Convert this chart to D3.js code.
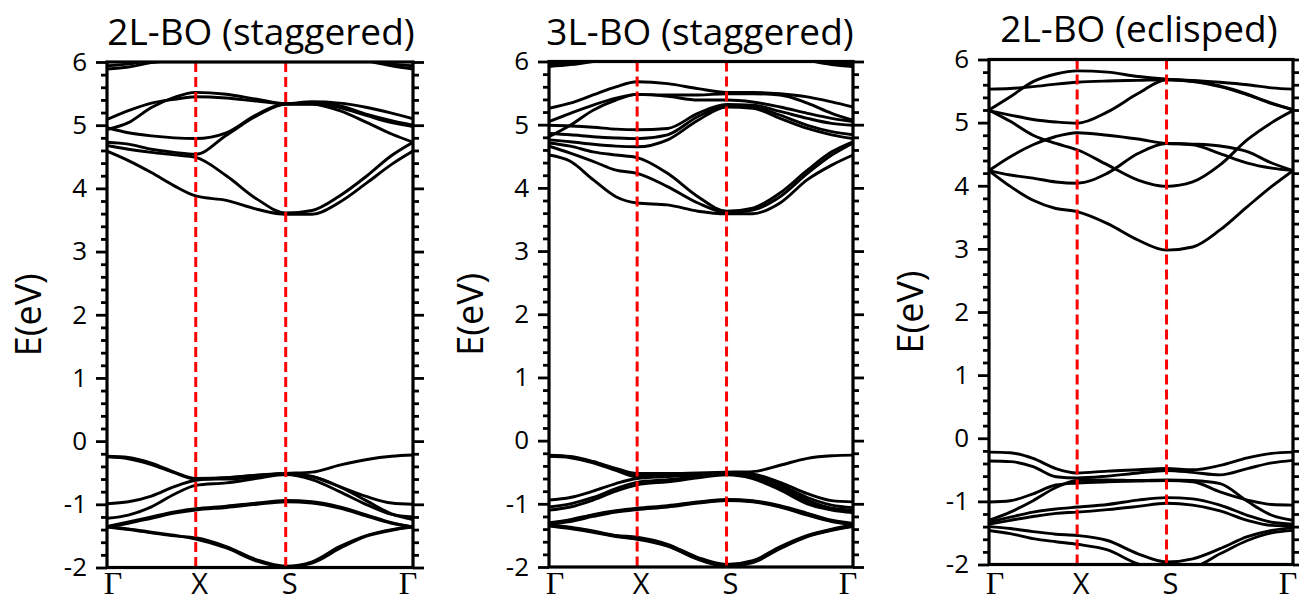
<!DOCTYPE html>
<html>
<head>
<meta charset="utf-8">
<script src="https://cdn.jsdelivr.net/npm/d3@7/dist/d3.min.js"></script>
<style>
  html, body { margin: 0; padding: 0; background: #fff; }
  svg { display: block; }
</style>
</head>
<body>
<svg id="chart" width="1299" height="604"></svg>
<script>
// ---------------- DATA ----------------
const kPath = [0, 0.07, 0.145, 0.22, 0.29, 0.39, 0.49, 0.584, 0.67, 0.76, 0.85, 0.93, 1];
const kTicks = [0, 0.29, 0.584, 1];
const kLabels = ["Γ", "X", "S", "Γ"];
const energyMajor = [-2, -1, 0, 1, 2, 3, 4, 5, 6];
const panelTitles = ["2L-BO (staggered)", "3L-BO (staggered)", "2L-BO (eclisped)"];
const yLabel = "E(eV)";

const bands2LStaggered = [
  [4.59, 4.44, 4.25, 4.04, 3.88, 3.81, 3.67, 3.59, 3.59, 3.78, 4.09, 4.38, 4.59],
  [4.68, 4.62, 4.57, 4.53, 4.49, 4.20, 3.83, 3.61, 3.65, 3.88, 4.20, 4.52, 4.73],
  [4.73, 4.70, 4.62, 4.57, 4.54, 4.84, 5.15, 5.33, 5.33, 5.23, 5.04, 4.86, 4.73],
  [4.96, 4.88, 4.83, 4.80, 4.79, 4.88, 5.17, 5.34, 5.34, 5.28, 5.15, 5.04, 4.98],
  [4.93, 5.04, 5.28, 5.44, 5.52, 5.49, 5.41, 5.34, 5.36, 5.31, 5.17, 5.07, 5.00],
  [5.09, 5.23, 5.35, 5.41, 5.45, 5.43, 5.38, 5.34, 5.37, 5.35, 5.28, 5.19, 5.10],
  [5.89, 5.92, 5.99, 6.04, 6.10, 6.15, 6.18, 6.20, 6.18, 6.12, 6.02, 5.94, 5.89],
  [5.94, 5.97, 6.03, 6.10, 6.15, 6.20, 6.25, 6.25, 6.22, 6.15, 6.06, 5.97, 5.94],
  [-0.24, -0.26, -0.35, -0.49, -0.59, -0.58, -0.54, -0.51, -0.49, -0.38, -0.29, -0.24, -0.22],
  [-0.25, -0.28, -0.37, -0.50, -0.60, -0.60, -0.56, -0.52, -0.56, -0.72, -0.95, -1.15, -1.24],
  [-0.99, -0.96, -0.87, -0.72, -0.62, -0.58, -0.54, -0.51, -0.56, -0.72, -0.88, -0.98, -1.00],
  [-1.22, -1.17, -1.04, -0.84, -0.70, -0.66, -0.59, -0.53, -0.61, -0.80, -1.01, -1.16, -1.20],
  [-1.35, -1.28, -1.20, -1.12, -1.07, -1.03, -0.98, -0.94, -0.96, -1.04, -1.17, -1.29, -1.36],
  [-1.36, -1.30, -1.22, -1.14, -1.09, -1.05, -1.00, -0.96, -0.98, -1.06, -1.19, -1.30, -1.36],
  [-1.36, -1.40, -1.45, -1.50, -1.53, -1.67, -1.88, -1.98, -1.91, -1.67, -1.49, -1.40, -1.36],
  [-1.35, -1.39, -1.44, -1.49, -1.55, -1.69, -1.90, -1.99, -1.93, -1.70, -1.50, -1.41, -1.35]
];

const bands3LStaggered = [
  [4.52, 4.42, 4.13, 3.86, 3.76, 3.73, 3.63, 3.59, 3.59, 3.76, 4.13, 4.36, 4.52],
  [4.66, 4.55, 4.42, 4.28, 4.23, 4.02, 3.76, 3.61, 3.65, 3.86, 4.23, 4.52, 4.71],
  [4.71, 4.66, 4.57, 4.52, 4.48, 4.23, 3.86, 3.63, 3.68, 3.92, 4.28, 4.57, 4.73],
  [4.76, 4.73, 4.69, 4.66, 4.65, 4.76, 5.07, 5.28, 5.26, 5.10, 4.94, 4.84, 4.78],
  [4.86, 4.84, 4.81, 4.79, 4.78, 4.84, 5.13, 5.29, 5.28, 5.15, 4.99, 4.89, 4.84],
  [4.99, 4.98, 4.96, 4.93, 4.92, 4.94, 5.18, 5.32, 5.31, 5.21, 5.10, 5.02, 4.99],
  [4.81, 4.99, 5.23, 5.39, 5.48, 5.45, 5.39, 5.39, 5.36, 5.28, 5.18, 5.10, 5.05],
  [5.05, 5.18, 5.31, 5.42, 5.48, 5.47, 5.47, 5.49, 5.49, 5.47, 5.34, 5.18, 5.07],
  [5.26, 5.34, 5.47, 5.60, 5.68, 5.65, 5.57, 5.51, 5.51, 5.49, 5.44, 5.36, 5.28],
  [5.92, 5.95, 6.00, 6.06, 6.12, 6.16, 6.20, 6.20, 6.18, 6.12, 6.02, 5.95, 5.92],
  [5.94, 5.97, 6.02, 6.08, 6.14, 6.18, 6.22, 6.22, 6.20, 6.14, 6.04, 5.97, 5.94],
  [5.96, 5.99, 6.04, 6.10, 6.16, 6.20, 6.24, 6.24, 6.22, 6.16, 6.06, 5.99, 5.96],
  [-0.23, -0.25, -0.33, -0.44, -0.52, -0.52, -0.51, -0.50, -0.49, -0.39, -0.28, -0.24, -0.23],
  [-0.24, -0.26, -0.34, -0.46, -0.55, -0.55, -0.53, -0.51, -0.53, -0.66, -0.84, -0.95, -0.97],
  [-0.25, -0.27, -0.35, -0.47, -0.57, -0.56, -0.54, -0.52, -0.55, -0.70, -0.90, -1.02, -1.06],
  [-0.94, -0.90, -0.80, -0.68, -0.60, -0.57, -0.54, -0.51, -0.56, -0.72, -0.94, -1.07, -1.10],
  [-1.05, -1.00, -0.90, -0.76, -0.66, -0.62, -0.57, -0.53, -0.58, -0.75, -0.97, -1.08, -1.12],
  [-1.10, -1.05, -0.94, -0.80, -0.70, -0.65, -0.59, -0.54, -0.60, -0.78, -1.00, -1.10, -1.14],
  [-1.30, -1.25, -1.17, -1.11, -1.07, -1.03, -0.97, -0.93, -0.95, -1.03, -1.15, -1.26, -1.31],
  [-1.31, -1.26, -1.18, -1.12, -1.08, -1.04, -0.98, -0.94, -0.96, -1.04, -1.16, -1.27, -1.32],
  [-1.32, -1.28, -1.20, -1.13, -1.09, -1.05, -0.99, -0.95, -0.97, -1.05, -1.18, -1.28, -1.33],
  [-1.33, -1.37, -1.43, -1.50, -1.53, -1.64, -1.85, -1.96, -1.90, -1.68, -1.50, -1.40, -1.34],
  [-1.34, -1.38, -1.44, -1.51, -1.55, -1.66, -1.87, -1.97, -1.92, -1.70, -1.51, -1.41, -1.35],
  [-1.35, -1.39, -1.45, -1.52, -1.56, -1.67, -1.88, -1.99, -1.93, -1.71, -1.52, -1.42, -1.36]
];

const bands2LEclipsed = [
  [5.53, 5.54, 5.57, 5.61, 5.64, 5.66, 5.67, 5.68, 5.67, 5.64, 5.60, 5.55, 5.53],
  [5.20, 5.41, 5.65, 5.77, 5.82, 5.80, 5.73, 5.69, 5.65, 5.57, 5.44, 5.31, 5.20],
  [5.19, 5.12, 5.05, 5.01, 4.99, 5.17, 5.46, 5.68, 5.66, 5.58, 5.45, 5.30, 5.21],
  [5.20, 5.02, 4.80, 4.67, 4.57, 4.33, 4.09, 3.99, 4.06, 4.33, 4.73, 5.00, 5.19],
  [4.24, 4.46, 4.65, 4.78, 4.84, 4.80, 4.74, 4.67, 4.66, 4.63, 4.54, 4.36, 4.24],
  [4.24, 4.17, 4.12, 4.06, 4.04, 4.20, 4.51, 4.67, 4.65, 4.51, 4.36, 4.28, 4.24],
  [4.24, 3.99, 3.77, 3.64, 3.59, 3.40, 3.14, 2.98, 3.03, 3.30, 3.67, 3.99, 4.24],
  [-0.22, -0.23, -0.32, -0.48, -0.55, -0.52, -0.50, -0.48, -0.50, -0.43, -0.31, -0.24, -0.22],
  [-0.36, -0.37, -0.45, -0.61, -0.63, -0.60, -0.55, -0.51, -0.54, -0.58, -0.48, -0.39, -0.35],
  [-1.01, -0.99, -0.88, -0.74, -0.71, -0.69, -0.68, -0.67, -0.69, -0.85, -0.98, -1.05, -1.06],
  [-1.30, -1.17, -0.99, -0.78, -0.67, -0.66, -0.67, -0.66, -0.67, -0.72, -1.00, -1.22, -1.30],
  [-1.33, -1.25, -1.17, -1.12, -1.09, -1.05, -0.98, -0.94, -0.96, -1.06, -1.22, -1.33, -1.36],
  [-1.36, -1.30, -1.24, -1.19, -1.17, -1.13, -1.08, -1.03, -1.06, -1.15, -1.30, -1.38, -1.39],
  [-1.40, -1.43, -1.48, -1.52, -1.54, -1.62, -1.83, -1.96, -1.91, -1.75, -1.56, -1.46, -1.42],
  [-1.46, -1.51, -1.59, -1.64, -1.68, -1.77, -1.99, -2.06, -2.04, -1.83, -1.62, -1.50, -1.46]
];

// ---------------- LAYOUT ----------------
const panels = [
  { title: panelTitles[0], bands: bands2LStaggered, left: 107, right: 413, top: 62,   bottom: 567.5, titleX: 261,  titleY: 45 },
  { title: panelTitles[1], bands: bands3LStaggered, left: 549, right: 853, top: 61.5, bottom: 567,   titleX: 700,  titleY: 45 },
  { title: panelTitles[2], bands: bands2LEclipsed,  left: 989, right: 1293, top: 59.5, bottom: 564.5, titleX: 1139, titleY: 42 }
];

const svg = d3.select("#chart");
const sans = "'Open Sans', 'Noto Sans', sans-serif";

const energyMinor = d3.range(-2, 6.0001, 0.2).map(v => Math.round(v * 10) / 10)
  .filter(v => !energyMajor.includes(v));

panels.forEach((p, i) => {
  const x = d3.scaleLinear().domain([0, 1]).range([p.left, p.right]);
  const y = d3.scaleLinear().domain([-2, 6]).range([p.bottom, p.top]);
  const g = svg.append("g");

  const clipId = "clip" + i;
  svg.append("defs").append("clipPath").attr("id", clipId)
    .append("rect").attr("x", p.left).attr("y", p.top)
    .attr("width", p.right - p.left).attr("height", p.bottom - p.top);

  // bands
  const line = d3.line()
    .x((d, j) => x(kPath[j]))
    .y(d => y(d))
    .curve(d3.curveMonotoneX);
  g.append("g").attr("clip-path", `url(#${clipId})`)
    .selectAll("path").data(p.bands).join("path")
    .attr("d", line)
    .attr("fill", "none")
    .attr("stroke", "#000")
    .attr("stroke-width", 2.9)
    .attr("stroke-linejoin", "round");

  // red dashed high-symmetry lines
  g.selectAll("line.hs").data(kTicks.slice(1, 3)).join("line")
    .attr("class", "hs")
    .attr("x1", d => x(d)).attr("x2", d => x(d))
    .attr("y1", p.top).attr("y2", p.bottom)
    .attr("stroke", "#ff0000")
    .attr("stroke-width", 3)
    .attr("stroke-dasharray", "10,5");

  // axes ticks
  const styleAxis = sel => {
    sel.select(".domain").remove();
    sel.selectAll(".tick line").attr("stroke", "#000").attr("stroke-width", 2.8);
  };
  g.append("g").attr("transform", `translate(${p.left},0)`)
    .call(d3.axisLeft(y).tickValues(energyMinor).tickSize(6).tickFormat(""))
    .call(styleAxis);
  g.append("g").attr("transform", `translate(${p.right},0)`)
    .call(d3.axisRight(y).tickValues(energyMinor).tickSize(6).tickFormat(""))
    .call(styleAxis);
  g.append("g").attr("transform", `translate(${p.right},0)`)
    .call(d3.axisRight(y).tickValues(energyMajor).tickSize(11).tickFormat(""))
    .call(styleAxis);
  const la = g.append("g").attr("transform", `translate(${p.left},0)`)
    .call(d3.axisLeft(y).tickValues(energyMajor).tickSize(11).tickPadding(9).tickFormat(d => String(d)))
    .call(styleAxis);
  la.selectAll(".tick text")
    .attr("fill", "#000")
    .style("font-family", sans)
    .style("font-size", "26px");

  // frame
  g.append("rect")
    .attr("x", p.left).attr("y", p.top)
    .attr("width", p.right - p.left).attr("height", p.bottom - p.top)
    .attr("fill", "none").attr("stroke", "#000").attr("stroke-width", 3.2);

  // k labels
  g.selectAll("text.klab").data(kTicks).join("text")
    .attr("class", "klab")
    .attr("x", d => x(d) + (d === 0 ? 6 : (d === 1 ? -5 : 4)))
    .attr("y", 594)
    .attr("text-anchor", "middle")
    .style("font-family", (d, j) => kLabels[j] === "Γ" ? "'Liberation Serif', serif" : sans)
    .style("font-size", (d, j) => kLabels[j] === "Γ" ? "32px" : "29px")
    .text((d, j) => kLabels[j]);

  // title
  g.append("text")
    .attr("x", p.titleX).attr("y", p.titleY)
    .attr("text-anchor", "middle")
    .style("font-family", sans)
    .style("font-size", "37px")
    .text(p.title);

  // y label
  g.append("text")
    .attr("transform", `translate(${p.left - 66},${(p.top + p.bottom) / 2}) rotate(-90)`)
    .attr("text-anchor", "middle")
    .style("font-family", sans)
    .style("font-size", "36px")
    .text(yLabel);
});
</script>
</body>
</html>
